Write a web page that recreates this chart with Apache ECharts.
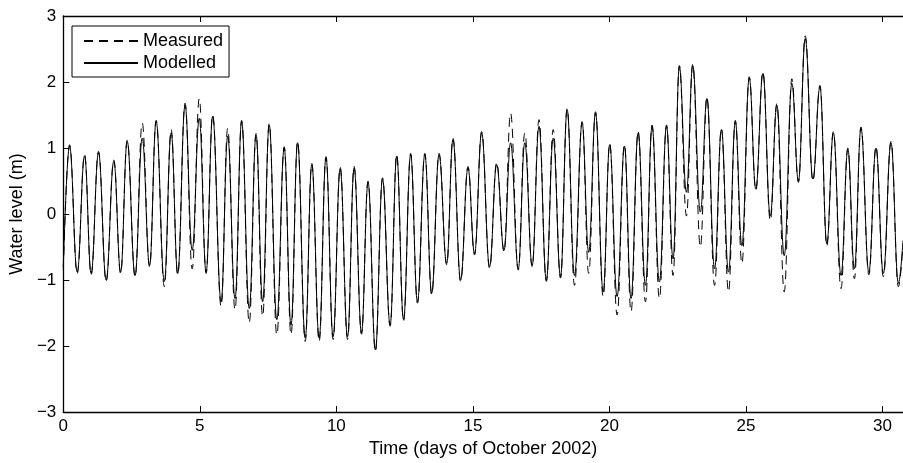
<!DOCTYPE html>
<html><head><meta charset="utf-8">
<script src="https://cdn.jsdelivr.net/npm/echarts@6/dist/echarts.min.js"></script>
<style>html,body{margin:0;padding:0;background:#fff}#c{width:903px;height:463px}</style>
</head><body><div id="c"></div>
<script>
// Times (days of October 2002) of successive high / low waters
const times = [
  0.00, 0.23, 0.51, 0.78, 1.02, 1.29, 1.57, 1.85, 2.10, 2.34,
  2.63, 2.89, 3.16, 3.40, 3.70, 3.95, 4.19, 4.46, 4.72, 4.98,
  5.23, 5.47, 5.78, 6.02, 6.29, 6.53, 6.81, 7.06, 7.30, 7.54,
  7.82, 8.09, 8.34, 8.58, 8.86, 9.10, 9.37, 9.62, 9.88, 10.14,
  10.41, 10.65, 10.92, 11.16, 11.43, 11.69, 11.97, 12.21, 12.46, 12.72,
  12.97, 13.24, 13.49, 13.76, 14.04, 14.27, 14.55, 14.82, 15.06, 15.32,
  15.61, 15.87, 16.14, 16.38, 16.66, 16.90, 17.17, 17.42, 17.69, 17.94,
  18.21, 18.45, 18.72, 19.00, 19.24, 19.49, 19.77, 20.01, 20.28, 20.55,
  20.79, 21.05, 21.32, 21.56, 21.83, 22.09, 22.33, 22.56, 22.82, 23.05,
  23.33, 23.57, 23.85, 24.10, 24.36, 24.61, 24.85, 25.12, 25.36, 25.62,
  25.89, 26.13, 26.40, 26.68, 26.92, 27.17, 27.45, 27.71, 27.96, 28.20,
  28.48, 28.73, 28.97, 29.21, 29.50, 29.76, 30.03, 30.31, 30.58, 30.75
];
// Modelled water level (m) at those times
const modelled = [
  -0.80, 1.03, -0.88, 0.88, -0.90, 0.93, -1.00, 0.80, -0.88, 1.10,
  -0.93, 1.15, -0.78, 1.40, -1.02, 1.23, -0.90, 1.65, -0.55, 1.45,
  -0.88, 1.48, -1.33, 1.18, -1.28, 1.40, -1.43, 1.20, -1.33, 1.35,
  -1.60, 1.00, -1.68, 1.08, -1.88, 0.75, -1.88, 0.85, -1.86, 0.69,
  -1.86, 0.70, -1.80, 0.48, -2.06, 0.53, -1.68, 0.88, -1.60, 0.90,
  -1.33, 0.90, -1.20, 0.90, -0.75, 1.13, -1.00, 0.70, -0.60, 1.23,
  -0.80, 0.75, -0.55, 1.08, -0.83, 1.08, -0.78, 1.33, -1.00, 1.15,
  -0.95, 1.58, -0.93, 1.38, -0.58, 1.53, -1.18, 1.05, -1.25, 1.03,
  -1.28, 1.23, -1.08, 1.33, -1.03, 1.33, -0.68, 2.23, 0.33, 2.25,
  0.03, 1.75, -0.83, 1.28, -0.88, 1.40, -0.48, 2.06, 0.38, 2.13,
  -0.03, 1.65, -0.63, 1.98, 0.50, 2.66, 0.53, 1.93, -0.45, 1.23,
  -0.93, 0.98, -0.83, 1.30, -0.88, 1.00, -0.90, 1.08, -1.05, -0.40
];
// Measured water level (m) at those times
const measured = [
  -0.85, 1.05, -0.90, 0.90, -0.92, 0.95, -1.02, 0.82, -0.90, 1.12,
  -0.95, 1.38, -0.80, 1.42, -1.10, 1.28, -0.92, 1.68, -0.83, 1.75,
  -0.90, 1.50, -1.40, 1.30, -1.45, 1.42, -1.65, 1.22, -1.55, 1.37,
  -1.83, 1.02, -1.83, 1.10, -1.93, 0.77, -1.93, 0.87, -1.90, 0.71,
  -1.90, 0.72, -1.82, 0.50, -2.08, 0.55, -1.70, 0.90, -1.62, 0.92,
  -1.35, 0.92, -1.22, 0.92, -0.77, 1.15, -1.02, 0.72, -0.62, 1.25,
  -0.82, 0.78, -0.57, 1.53, -0.85, 1.23, -0.80, 1.43, -1.02, 1.28,
  -0.97, 1.60, -1.08, 1.40, -0.90, 1.55, -1.25, 1.07, -1.53, 1.05,
  -1.48, 1.25, -1.33, 1.35, -1.28, 1.35, -0.93, 2.25, -0.03, 2.27,
  -0.50, 1.77, -1.08, 1.30, -1.18, 1.42, -0.75, 2.08, 0.36, 2.15,
  -0.10, 1.67, -1.18, 2.05, 0.48, 2.70, 0.50, 1.95, -0.48, 1.25,
  -1.13, 1.00, -0.98, 1.32, -0.92, 1.02, -0.95, 1.10, -1.10, -0.45
];
const xTicks = [0, 5, 10, 15, 20, 25, 30];
const yTicks = [-3, -2, -1, 0, 1, 2, 3];

const FONT = '"Liberation Sans", Arial, Helvetica, sans-serif';
const chart = echarts.init(document.getElementById('c'), null, {renderer: 'canvas'});
const minus = v => String(v).replace('-', '\u2212');
const axisCommon = {
  type: 'value',
  axisLine: {show: true, onZero: false, lineStyle: {color: '#000', width: 1.3}},
  axisTick: {show: true, inside: true, length: 6, lineStyle: {color: '#000', width: 1}},
  splitLine: {show: false}
};
chart.setOption({
  animation: false,
  backgroundColor: '#fff',
  grid: {left: 62, right: 0, top: 16, bottom: 48, containLabel: false},
  legend: {
    orient: 'vertical', left: 72, top: 26,
    data: ['Measured', 'Modelled'],
    backgroundColor: '#fff',
    borderColor: '#000', borderWidth: 1, borderRadius: 0,
    padding: [5, 6, 4, 11],
    itemWidth: 54, itemHeight: 14, itemGap: 2,
    itemStyle: {opacity: 0, borderWidth: 0},
    textStyle: {color: '#000', fontSize: 18, fontFamily: FONT, lineHeight: 20},
    selectedMode: false
  },
  xAxis: [
    Object.assign({}, axisCommon, {
      min: 0, max: 30.75, interval: 5, position: 'bottom',
      axisLabel: {color: '#000', fontSize: 17, fontFamily: FONT, margin: 6,
        showMaxLabel: false,
        formatter: v => xTicks.indexOf(v) >= 0 ? minus(v) : ''},
      name: 'Time (days of October 2002)', nameLocation: 'middle', nameGap: 19,
      nameTextStyle: {color: '#000', fontSize: 18, fontFamily: FONT}
    }),
    Object.assign({}, axisCommon, {
      min: 0, max: 30.75, interval: 5, position: 'top',
      axisLabel: {show: false}
    })
  ],
  yAxis: [
    Object.assign({}, axisCommon, {
      min: yTicks[0], max: yTicks[yTicks.length - 1], interval: 1, position: 'left',
      axisLabel: {color: '#000', fontSize: 17, fontFamily: FONT, margin: 7,
        formatter: v => minus(v)},
      name: 'Water level (m)', nameLocation: 'middle', nameGap: 36,
      nameTextStyle: {color: '#000', fontSize: 18, fontFamily: FONT}
    })
  ],
  series: [
    {
      name: 'Measured', type: 'line', xAxisIndex: 0, yAxisIndex: 0,
      data: times.map((t, i) => [t, measured[i]]),
      showSymbol: false, symbol: 'none', symbolSize: 0,
      smooth: 0.42, smoothMonotone: 'x',
      lineStyle: {color: '#000', width: 1, type: [9, 6]},
      itemStyle: {color: '#000'},
      z: 2
    },
    {
      name: 'Modelled', type: 'line', xAxisIndex: 0, yAxisIndex: 0,
      data: times.map((t, i) => [t, modelled[i]]),
      showSymbol: false, symbol: 'none', symbolSize: 0,
      smooth: 0.42, smoothMonotone: 'x',
      lineStyle: {color: '#000', width: 1, type: 'solid'},
      itemStyle: {color: '#000'},
      z: 3
    }
  ]
});
</script></body></html>
